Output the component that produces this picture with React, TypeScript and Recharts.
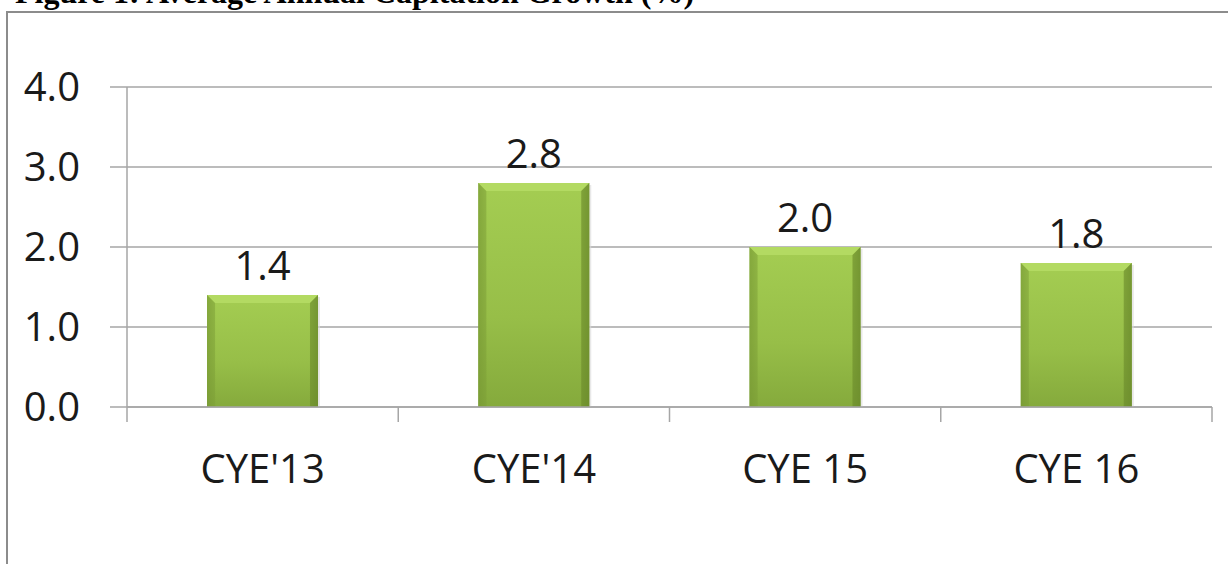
import React from 'react';
import { BarChart, Bar, XAxis, YAxis, CartesianGrid, LabelList } from 'recharts';

const categories = ["CYE'13", "CYE'14", 'CYE 15', 'CYE 16'];
const growth = [1.4, 2.8, 2.0, 1.8];
const yTicks = [0, 1, 2, 3, 4];

const data = categories.map((name, i) => ({ name, value: growth[i] }));

const FONT = '"Open Sans", sans-serif';
const GRID = '#a6a6a6';

// bevelled green bar, roughly like the Office 2010 preset
const BevelBar = (props: any) => {
  const { x, y, width, height } = props;
  if (!height || height <= 0) return null;
  const b = Math.min(8, height / 2);
  return (
    <g>
      <rect x={x + 2} y={y + 2} width={width} height={height - 2} fill="#d9d9d9" opacity={0.6} />
      <rect x={x} y={y} width={width} height={height} fill="url(#barBody)" />
      <rect x={x} y={y} width={width} height={height} fill="url(#barEdge)" />
      <polygon
        points={`${x},${y} ${x + width},${y} ${x + width - b},${y + b} ${x + b},${y + b}`}
        fill="#b3da62"
      />
      <polygon points={`${x},${y} ${x + b},${y + b} ${x + b},${y + height} ${x},${y + height}`} fill="#7e9f38" opacity={0.5} />
      <polygon
        points={`${x + width},${y} ${x + width - b},${y + b} ${x + width - b},${y + height} ${x + width},${y + height}`}
        fill="#6a8a2c"
        opacity={0.6}
      />
    </g>
  );
};

const CategoryTick = (props: any) => {
  const { x, y, payload, index } = props;
  const half = payload.offset ?? 1085 / 8;
  return (
    <g>
      <line x1={x - half} x2={x - half} y1={y} y2={y + 15} stroke={GRID} strokeWidth={1.5} />
      {index === categories.length - 1 && (
        <line x1={x + half} x2={x + half} y1={y} y2={y + 15} stroke={GRID} strokeWidth={1.5} />
      )}
      <text x={x} y={y + 76} textAnchor="middle" fontFamily={FONT} fontSize={40} fill="#1a1a1a">
        {payload.value}
      </text>
    </g>
  );
};

export default function App() {
  return (
    <div style={{ position: 'absolute', left: 0, top: 0, width: 1228, height: 564, overflow: 'hidden', background: '#fff' }}>
      <div
        style={{
          position: 'absolute',
          left: 15,
          top: -30,
          fontFamily: '"Liberation Serif", serif',
          fontWeight: 'bold',
          fontSize: 32,
          lineHeight: '44px',
          whiteSpace: 'nowrap',
          color: '#000',
        }}
      >
        Figure 1: Average Annual Capitation Growth (%)
      </div>
      <div
        style={{
          position: 'absolute',
          left: 6,
          top: 11,
          width: 1240,
          height: 600,
          borderTop: '2px solid #8c8c8c',
          borderLeft: '2px solid #8c8c8c',
        }}
      />
      <div style={{ position: 'absolute', left: 0, top: 0 }}>
        <BarChart
          width={1228}
          height={564}
          data={data}
          margin={{ top: 87, right: 16, left: 10, bottom: 57 }}
          barCategoryGap="29.5%"
        >
          <defs>
            <linearGradient id="barBody" x1="0" y1="0" x2="0" y2="1">
              <stop offset="0%" stopColor="#a4cd52" />
              <stop offset="60%" stopColor="#97be48" />
              <stop offset="100%" stopColor="#85aa3c" />
            </linearGradient>
            <linearGradient id="barEdge" x1="0" y1="0" x2="1" y2="0">
              <stop offset="0%" stopColor="#5f7f24" stopOpacity={0.35} />
              <stop offset="8%" stopColor="#5f7f24" stopOpacity={0} />
              <stop offset="92%" stopColor="#5f7f24" stopOpacity={0} />
              <stop offset="100%" stopColor="#5f7f24" stopOpacity={0.45} />
            </linearGradient>
          </defs>
          <CartesianGrid horizontal vertical={false} stroke={GRID} strokeWidth={1.5} />
          <XAxis
            dataKey="name"
            height={100}
            tickLine={false}
            tickSize={0}
            tickMargin={0}
            axisLine={{ stroke: GRID, strokeWidth: 1.5 }}
            tick={<CategoryTick />}
            interval={0}
          />
          <YAxis
            width={117}
            domain={[0, 4]}
            ticks={yTicks}
            interval={0}
            tickFormatter={(v: number) => v.toFixed(1)}
            tickSize={17}
            tickMargin={30}
            axisLine={{ stroke: GRID, strokeWidth: 1.5 }}
            tickLine={{ stroke: GRID, strokeWidth: 1.5 }}
            tick={{ fontFamily: FONT, fontSize: 40, fill: '#1a1a1a' }}
          />
          <Bar dataKey="value" shape={<BevelBar />} isAnimationActive={false}>
            <LabelList
              dataKey="value"
              position="top"
              offset={15}
              formatter={(v: any) => Number(v).toFixed(1)}
              style={{ fontFamily: FONT, fontSize: 40, fill: '#1a1a1a' }}
            />
          </Bar>
        </BarChart>
      </div>
    </div>
  );
}
